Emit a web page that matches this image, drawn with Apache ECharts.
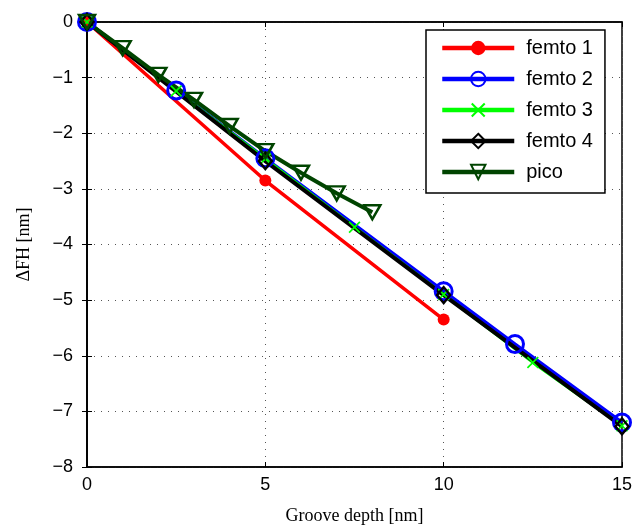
<!DOCTYPE html>
<html><head><meta charset="utf-8">
<script src="https://cdn.jsdelivr.net/npm/echarts@6/dist/echarts.min.js"></script>
<style>html,body{margin:0;padding:0;background:#fff}#c{width:633px;height:528px}</style>
</head><body><div id="c"></div>
<script>
const femto1 = [[0,0],[5,-2.85],[10,-5.35]];
const femto2 = [[0,0],[2.5,-1.23],[5,-2.45],[10,-4.84],[12,-5.79],[15,-7.2]];
const femto3 = [[0,0],[2.5,-1.24],[5,-2.46],[7.5,-3.69],[10,-4.9],[12.5,-6.12],[15,-7.26]];
const femto4 = [[0,0],[5,-2.5],[10,-4.91],[15,-7.27]];
const pico = [[0,0],[1,-0.47],[2,-0.95],[3,-1.4],[4,-1.87],[5,-2.32],[6,-2.71],[7,-3.08],[8,-3.42]];
const seriesNames = ['femto 1','femto 2','femto 3','femto 4','pico'];
const xTicks = [0,5,10,15];
const yTicks = [0,-1,-2,-3,-4,-5,-6,-7,-8];

const fmt = v => String(v).replace('-', '\u2212');
const xPath = 'path://M0,2L2,0L10,8L18,0L20,2L12,10L20,18L18,20L10,12L2,20L0,18L8,10Z';
const chart = echarts.init(document.getElementById('c'));
const tickFont = {fontFamily:'Liberation Sans, Arial, sans-serif', fontSize:18, color:'#000'};
chart.setOption({
  animation:false,
  backgroundColor:'#fff',
  grid:{left:87,right:11,top:22,bottom:61,outerBoundsMode:'none',containLabel:false,
        show:true,borderColor:'#000',borderWidth:1.5,backgroundColor:'transparent'},
  legend:{
    data:seriesNames, orient:'vertical', left:426, top:30, itemWidth:72, itemHeight:18, itemGap:11,
    backgroundColor:'#fff', borderColor:'#000', borderWidth:1.5, padding:[8,12,11,14],
    lineStyle:{width:4.5},
    textStyle:{fontFamily:'Liberation Sans, Arial, sans-serif', fontSize:20, color:'#000', padding:[0,0,0,7]}
  },
  xAxis:[{
    type:'value', min:xTicks[0], max:xTicks[xTicks.length-1], interval:5,
    name:'Groove depth [nm]', nameLocation:'middle', nameGap:40,
    nameTextStyle:{fontFamily:'Liberation Serif, Times New Roman, serif', fontSize:18, color:'#000'},
    axisLine:{show:true,onZero:false,lineStyle:{color:'#000',width:1.5}},
    axisTick:{show:true,inside:true,length:5,lineStyle:{color:'#000'}},
    axisLabel:Object.assign({margin:9,formatter:fmt},tickFont),
    splitLine:{show:true,lineStyle:{color:'#555',type:[1,6],width:1}}
  },{
    type:'value', position:'top', min:0, max:15, interval:5,
    axisLine:{show:true,lineStyle:{color:'#000',width:1.5}},
    axisTick:{show:true,inside:true,length:5,lineStyle:{color:'#000'}},
    axisLabel:{show:false}, splitLine:{show:false}
  }],
  yAxis:[{
    type:'value', min:yTicks[yTicks.length-1], max:yTicks[0], interval:1,
    name:'\u0394FH [nm]', nameLocation:'middle', nameGap:54, nameRotate:90,
    nameTextStyle:{fontFamily:'Liberation Serif, Times New Roman, serif', fontSize:18, color:'#000'},
    axisLine:{show:true,onZero:false,lineStyle:{color:'#000',width:1.5}},
    axisTick:{show:true,inside:true,length:5,lineStyle:{color:'#000'}},
    axisLabel:Object.assign({margin:14,formatter:fmt},tickFont),
    splitLine:{show:true,lineStyle:{color:'#555',type:[1,6],width:1}}
  },{
    type:'value', position:'right', min:-8, max:0, interval:1,
    axisLine:{show:true,lineStyle:{color:'#000',width:1.5}},
    axisTick:{show:true,inside:true,length:5,lineStyle:{color:'#000'}},
    axisLabel:{show:false}, splitLine:{show:false}
  }],
  series:[
    {name:seriesNames[0], type:'line', data:femto1, symbol:'circle', symbolSize:12,
     lineStyle:{color:'#ff0000',width:3.5}, itemStyle:{color:'#ff0000'}},
    {name:seriesNames[1], type:'line', data:femto2, symbol:'circle', symbolSize:17,
     lineStyle:{color:'#0000ff',width:3.5}, itemStyle:{color:'rgba(0,0,0,0)',borderColor:'#0000ff',borderWidth:3}},
    {name:seriesNames[2], type:'line', data:femto3, symbol:xPath, symbolSize:12,
     lineStyle:{color:'#00ff00',width:3}, itemStyle:{color:'#00ff00'}},
    {name:seriesNames[3], type:'line', data:femto4, symbol:'diamond', symbolSize:[13,16],
     lineStyle:{color:'#000000',width:4}, itemStyle:{color:'rgba(0,0,0,0)',borderColor:'#000',borderWidth:2.5}},
    {name:seriesNames[4], type:'line', data:pico, symbol:'triangle', symbolRotate:180, symbolSize:[16,14],
     lineStyle:{color:'#004400',width:4}, itemStyle:{color:'rgba(0,0,0,0)',borderColor:'#004400',borderWidth:2.5}}
  ]
});
</script></body></html>
